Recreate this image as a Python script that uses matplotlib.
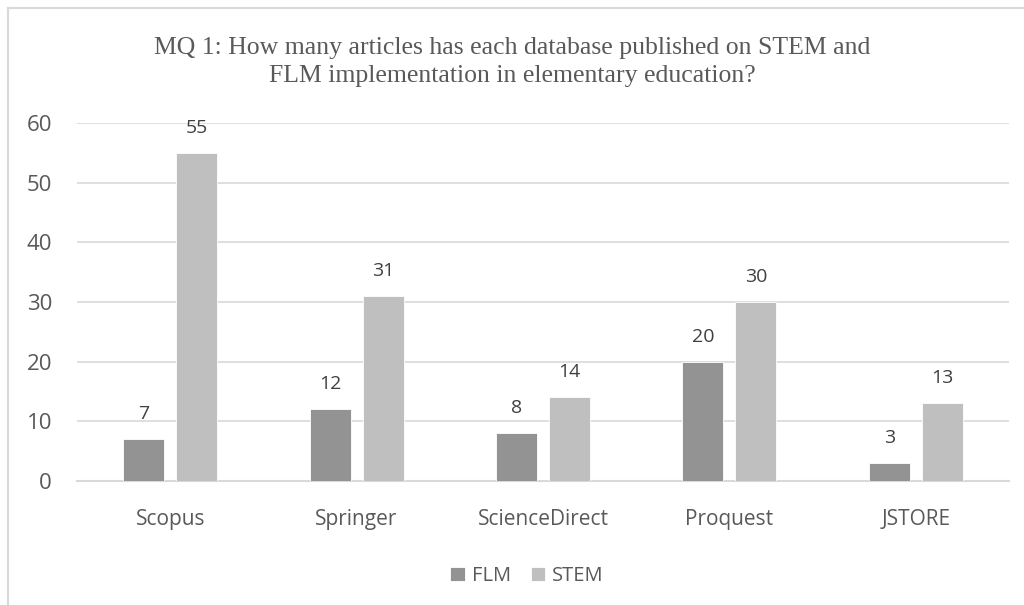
import matplotlib
matplotlib.use("Agg")
import matplotlib.pyplot as plt
from matplotlib.lines import Line2D
import numpy as np

categories = ["Scopus", "Springer", "ScienceDirect", "Proquest", "JSTORE"]
flm = [7, 12, 8, 20, 3]
stem = [55, 31, 14, 30, 13]
yticks = [0, 10, 20, 30, 40, 50, 60]
title = "MQ 1: How many articles has each database published on STEM and\nFLM implementation in elementary education?"

txt = "#595959"
c_flm = "#939393"
c_stem = "#bfbfbf"

fig = plt.figure(figsize=(10.24, 6.05), dpi=100)
W, H = 1024, 605
ax = fig.add_axes([77 / W, 1 - 481 / H, (1009 - 77) / W, (481 - 123) / H])

x = np.arange(len(categories))
bw = 0.22
off = 0.142
b1 = ax.bar(x - off, flm, bw, color=c_flm, edgecolor="white", linewidth=0.6, zorder=3, label="FLM")
b2 = ax.bar(x + off, stem, bw, color=c_stem, edgecolor="white", linewidth=0.6, zorder=3, label="STEM")

sans = ["Open Sans", "DejaVu Sans"]
for bars, vals in ((b1, flm), (b2, stem)):
    for r, v in zip(bars, vals):
        ax.annotate(str(v), (r.get_x() + r.get_width() / 2, v), xytext=(0, 11.5),
                    textcoords="offset points", ha="center", va="bottom",
                    fontsize=14, color="#404040", family=sans, zorder=4)

ax.set_xlim(-0.5, len(categories) - 0.5)
ax.set_ylim(0, 60)
ax.set_yticks(yticks)
ax.set_yticklabels([str(t) for t in yticks], family=sans, fontsize=16, color=txt)
ax.set_xticks(x)
ax.set_xticklabels(categories, family=sans, fontsize=15, color=txt)
ax.tick_params(axis="both", length=0)
ax.tick_params(axis="y", pad=18)
ax.tick_params(axis="x", pad=20)
ax.grid(axis="y", color="#d9d9d9", linewidth=1.2, zorder=0)
for s in ["top", "right", "left"]:
    ax.spines[s].set_visible(False)
ax.spines["bottom"].set_color("#d9d9d9")
ax.spines["bottom"].set_linewidth(1.5)

fig.text(0.5, 1 - 62 / H, title, ha="center", va="center", fontsize=18.5,
         family=["Liberation Serif", "DejaVu Serif"], color=txt, linespacing=1.3)

leg = fig.legend(handles=[b1, b2], labels=["FLM", "STEM"], loc="center",
                 bbox_to_anchor=(527 / W, 1 - 576 / H), ncol=2, frameon=False,
                 prop={"family": sans, "size": 14.5}, handlelength=0.7,
                 handleheight=0.7, handletextpad=0.35, columnspacing=1.0)
for t in leg.get_texts():
    t.set_color(txt)

# chart area border (partly cropped)
fig.add_artist(Line2D([7.5 / W, 7.5 / W], [0, 1 - 7.5 / H], color="#d9d9d9", linewidth=1.5))
fig.add_artist(Line2D([7.5 / W, 1], [1 - 7.5 / H, 1 - 7.5 / H], color="#d9d9d9", linewidth=1.5))

fig.savefig("out.png", dpi=100)
